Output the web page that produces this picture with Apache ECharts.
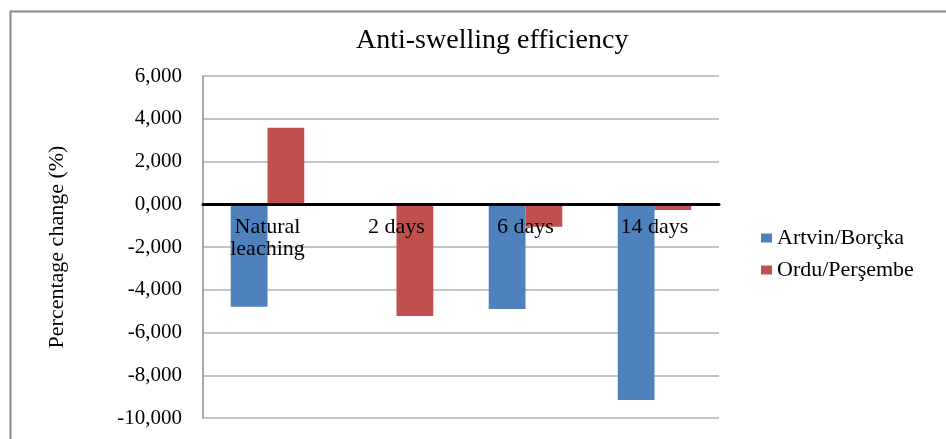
<!DOCTYPE html>
<html>
<head>
<meta charset="utf-8">
<script src="https://cdn.jsdelivr.net/npm/echarts@6/dist/echarts.min.js"></script>
<style>html,body{margin:0;padding:0;background:#fff}#c{width:946px;height:439px}</style>
</head>
<body>
<div id="c"></div>
<script>
var categories = ['Natural\nleaching', '2 days', '6 days', '14 days'];
var seriesNames = ['Artvin/Borçka', 'Ordu/Perşembe'];
var artvin = [-4.79, 0, -4.90, -9.16];
var ordu = [3.58, -5.23, -1.05, -0.27];
var yTicks = { min: -10, max: 6, interval: 2 };

var FONT = '"Liberation Serif", "Times New Roman", serif';
var GRID = { left: 203, right: 227, top: 76, bottom: 21 };
var plotH = 439 - GRID.top - GRID.bottom;
// distance from the bottom of the plot up to the zero line, via the y scale
var zeroFromBottom = plotH * (0 - yTicks.min) / (yTicks.max - yTicks.min);

var chart = echarts.init(document.getElementById('c'), null, { renderer: 'canvas' });
chart.setOption({
  animation: false,
  backgroundColor: '#fff',
  title: {
    text: 'Anti-swelling efficiency',
    left: 351, top: 22,
    textStyle: { fontFamily: FONT, fontSize: 28, fontWeight: 'normal', color: '#000' }
  },
  legend: {
    orient: 'vertical',
    left: 756, top: 222,
    itemWidth: 11, itemHeight: 9, itemGap: 10,
    icon: 'rect',
    textStyle: { fontFamily: FONT, fontSize: 22, color: '#000', padding: [0, 0, 0, 0] },
    data: seriesNames
  },
  grid: { left: GRID.left, right: GRID.right, top: GRID.top, bottom: GRID.bottom, containLabel: false, outerBoundsMode: 'none' },
  xAxis: {
    type: 'category',
    data: categories,
    z: 5,
    axisLine: { onZero: true, lineStyle: { color: '#000', width: 3 } },
    axisTick: { show: false },
    axisLabel: { fontFamily: FONT, fontSize: 22, color: '#000', margin: 12 - zeroFromBottom, lineHeight: 22 },
    splitLine: { show: false }
  },
  yAxis: {
    type: 'value',
    min: yTicks.min, max: yTicks.max, interval: yTicks.interval,
    name: 'Percentage change (%)',
    nameLocation: 'middle', nameRotate: 90, nameGap: 135,
    nameTextStyle: { fontFamily: FONT, fontSize: 22, color: '#000' },
    axisLine: { show: true, lineStyle: { color: '#8c8c8c', width: 1.5 } },
    axisTick: { show: false },
    axisLabel: {
      fontFamily: FONT, fontSize: 21, color: '#000', margin: 21,
      formatter: function (v) { return v.toFixed(3).replace('.', ','); }
    },
    splitLine: { show: true, lineStyle: { color: '#b0b0b0', width: 1.5 } }
  },
  series: [
    { name: seriesNames[0], type: 'bar', data: artvin, barGap: '0%', barCategoryGap: '43%',
      itemStyle: { color: '#4F81BD' } },
    { name: seriesNames[1], type: 'bar', data: ordu, barGap: '0%', barCategoryGap: '43%',
      itemStyle: { color: '#C0504D' } }
  ],
  graphic: [
    { type: 'rect', left: 8, top: 9, shape: { width: 1000, height: 1000 },
      style: { fill: 'none', stroke: '#888', lineWidth: 2 }, silent: true, z: -1 }
  ]
});
</script>
</body>
</html>
